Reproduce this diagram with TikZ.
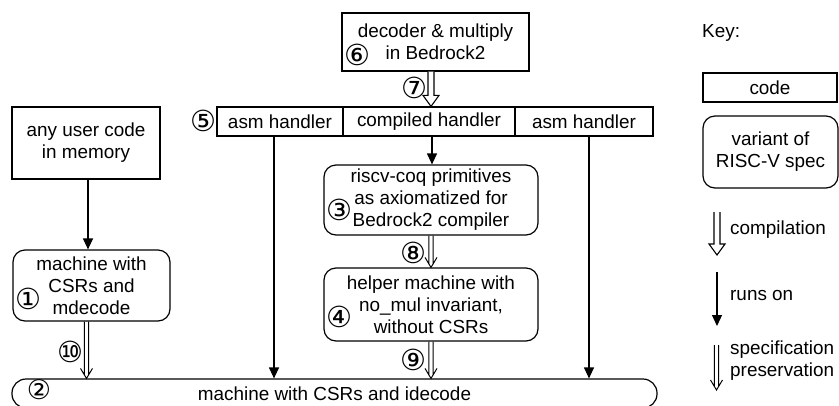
\documentclass[tikz,border=0pt]{standalone}
\usepackage{fontspec}
\setmainfont{Liberation Sans}
\newfontfamily\circfont{DejaVu Sans}
\usetikzlibrary{arrows.meta,calc}
\newcommand\hollowarrow[2]{\draw[line width=1.1pt, fill=white, line join=miter]
  ($(#1)+(-3,0)$) -- ($(#2)+(-3,-11)$) -- ($(#2)+(-8,-11)$) -- (#2) -- ($(#2)+(8,-11)$) -- ($(#2)+(3,-11)$) -- ($(#1)+(3,0)$);}
\newcommand\specarrow[2]{\draw[line width=1pt]
  ($(#1)+(-2.2,0)$) -- ($(#2)+(-2.2,-3)$) ($(#1)+(2.2,0)$) -- ($(#2)+(2.2,-3)$)
  ($(#2)+(-6,-10)$) -- (#2) -- ($(#2)+(6,-10)$);}
\tikzset{
  txt/.style={font=\fontsize{18.9}{22}\selectfont, inner sep=0pt, align=center},
  codebox/.style={txt, draw, line width=1.2pt},
  specbox/.style={codebox, rounded corners=12pt},
  runs/.style={-{Triangle[length=11pt,width=10pt]}, line width=1.2pt},
  num/.style={font=\circfont\fontsize{29}{29}\selectfont, inner sep=0pt},
}
\begin{document}
\begin{tikzpicture}[x=1pt,y=-1pt]
\useasboundingbox (0,0) rectangle (839,405);
\clip (0,0) rectangle (839,405);
% boxes
\node[codebox, minimum width=148pt, minimum height=72pt] (user) at (86,143) {any user code\\in memory};
\node[specbox, minimum width=157pt, minimum height=71pt] (m1) at (91.5,285.5) {machine with\\CSRs and\\mdecode};
\node[specbox, rounded corners=14pt, minimum width=645pt, minimum height=29pt] (b2) at (334.5,393.5) {machine with CSRs and idecode};
\node[codebox, minimum width=126pt, minimum height=29pt] (h1) at (280,121.5) {asm handler};
\node[codebox, minimum width=172pt, minimum height=29pt] (h2) at (429,121.5) {compiled handler};
\node[codebox, minimum width=138pt, minimum height=29pt] (h3) at (584,121.5) {asm handler};
\node[codebox, minimum width=187pt, minimum height=58pt] (dec) at (435.5,42) {decoder \& multiply\\in Bedrock2};
\node[specbox, minimum width=214pt, minimum height=70pt] (rc) at (431,200) {riscv-coq primitives\\as axiomatized for\\Bedrock2 compiler};
\node[specbox, minimum width=214pt, minimum height=73pt] (hm) at (431,304.5) {helper machine with\\no\_mul invariant,\\without CSRs};
% numbers
\node[num] (n1) at (28,299) {①};
\node[num, font=\circfont\fontsize{27}{27}\selectfont] (n2) at (39,390) {②};
\node[num] (n3) at (339,210) {③};
\node[num] (n4) at (339,317) {④};
\node[num] (n5) at (203,121) {⑤};
\node[num] (n6) at (357,55) {⑥};
\node[num] (n7) at (414,88) {⑦};
\node[num] (n8) at (413,253) {⑧};
\node[num] (n9) at (413,360) {⑨};
\node[num] (n10) at (70,352) {⑩};
% connectors
\coordinate (p0) at ([xshift=2pt]user.south);
\draw[runs] (p0) -- (p0 |- m1.north);
\coordinate (p1) at ([xshift=-6pt]h1.south);
\draw[runs] (p1) -- (p1 |- b2.north);
\coordinate (p3) at ([xshift=5pt]h3.south);
\draw[runs] (p3) -- (p3 |- b2.north);
\coordinate (p2) at ([xshift=3pt]h2.south);
\draw[runs] (p2) -- (p2 |- rc.north);
\coordinate (c7b) at ([xshift=2pt]h2.north);
\coordinate (c7a) at (c7b |- dec.south);
\hollowarrow{c7a}{c7b}
\coordinate (c9) at (hm.south |- b2.north);
\specarrow{rc.south}{hm.north}
\specarrow{hm.south}{c9}
\coordinate (c10a) at ([xshift=-5pt]m1.south);
\coordinate (c10b) at (c10a |- b2.north);
\specarrow{c10a}{c10b}
% key
\node[txt, anchor=west] (key) at (702,33) {Key:};
\node[codebox, minimum width=134pt, minimum height=29pt] (code) at (770,87.5) {code};
\node[specbox, minimum width=135pt, minimum height=72pt] (var) at (770.5,152) {variant of\\RISC-V spec};
\coordinate (ka1) at (717,212);
\coordinate (ka2) at (717,255);
\hollowarrow{ka1}{ka2}
\node[txt, anchor=west] (kal) at (730,230) {compilation};
\coordinate (kb1) at (717,272);
\coordinate (kb2) at (717,326);
\draw[runs] (kb1) -- (kb2);
\node[txt, anchor=west] (kbl) at (730,296) {runs on};
\coordinate (kc1) at (716.5,345);
\coordinate (kc2) at (716.5,390);
\specarrow{kc1}{kc2}
\node[txt, anchor=west, align=left] (kcl) at (730,361) {specification\\preservation};
\end{tikzpicture}
\end{document}
